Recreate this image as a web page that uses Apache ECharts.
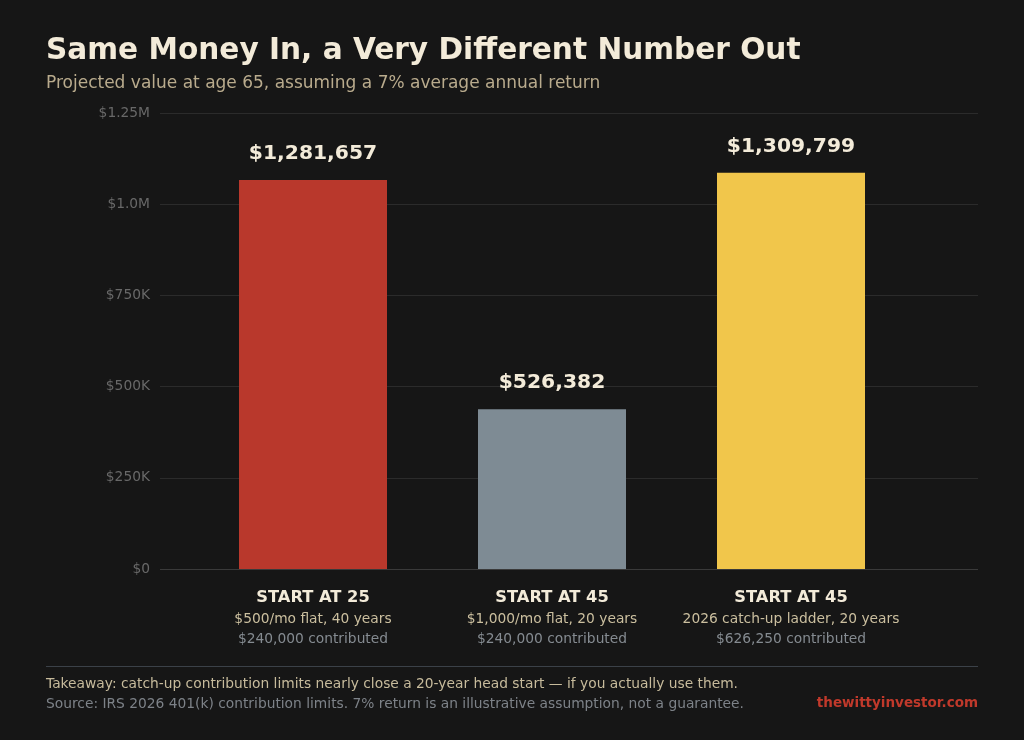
<!DOCTYPE html>
<html>
<head>
<meta charset="utf-8">
<script src="https://cdn.jsdelivr.net/npm/echarts@6/dist/echarts.min.js"></script>
<style>
html,body{margin:0;padding:0;background:#161616;}
#c{width:1024px;height:740px;}
</style>
</head>
<body>
<div id="c"></div>
<script>
// ---- data ----
const categories = ['START AT 25', 'START AT 45', 'START AT 45'];
const planLines = ['$500/mo flat, 40 years', '$1,000/mo flat, 20 years', '2026 catch-up ladder, 20 years'];
const contributedLines = ['$240,000 contributed', '$240,000 contributed', '$626,250 contributed'];
const barHeights = [1066000, 438000, 1086000];           // bar heights as drawn
const valueLabels = ['$1,281,657', '$526,382', '$1,309,799']; // printed labels
const barColors = ['#b9382c', '#7e8b94', '#f1c64b'];
const yTickValues = [0, 250000, 500000, 750000, 1000000, 1250000];
const yTickLabels = ['$0', '$250K', '$500K', '$750K', '$1.0M', '$1.25M'];

const FONT = 'DejaVu Sans';
const chart = echarts.init(document.getElementById('c'), null, {renderer: 'canvas'});

const option = {
  backgroundColor: '#161616',
  animation: false,
  textStyle: {fontFamily: FONT},
  title: [
    {text: 'Same Money In, a Very Different Number Out', left: 41, top: 31,
     textStyle: {fontFamily: FONT, fontSize: 29.6, fontWeight: 'bold', color: '#f3ebd9'}},
    {text: 'Projected value at age 65, assuming a 7% average annual return', left: 41, top: 70,
     textStyle: {fontFamily: FONT, fontSize: 17, fontWeight: 'normal', color: '#b9ab8d'}}
  ],
  grid: [
    {left: 160, right: 46, top: 113, bottom: 171, containLabel: false},
    {left: 193.5, right: 113.5, top: 113, bottom: 171, containLabel: false}
  ],
  xAxis: [
    {type: 'category', gridIndex: 0, data: ['a'], show: false},
    {type: 'category', gridIndex: 1, data: categories,
     axisLine: {show: false}, axisTick: {show: false},
     axisLabel: {
       margin: 18, interval: 0,
       formatter: function (v, i) {
         return '{a|' + v + '}\n{b|' + planLines[i] + '}\n{c|' + contributedLines[i] + '}';
       },
       rich: {
         a: {fontFamily: FONT, fontSize: 16.3, fontWeight: 'bold', color: '#f3ebd9', lineHeight: 22},
         b: {fontFamily: FONT, fontSize: 13.8, color: '#cbbf9f', lineHeight: 20},
         c: {fontFamily: FONT, fontSize: 13.8, color: '#858b91', lineHeight: 20}
       }
     }}
  ],
  yAxis: [
    {type: 'value', gridIndex: 0, min: 0, max: 1250000, interval: 250000,
     axisLine: {show: false}, axisTick: {show: false},
     axisLabel: {margin: 10, fontFamily: FONT, fontSize: 13.8, color: '#686868',
       formatter: function (v) { const k = yTickValues.indexOf(v); return k >= 0 ? yTickLabels[k] : ''; }},
     splitLine: {lineStyle: {color: '#2b2b2b', width: 1}}},
    {type: 'value', gridIndex: 1, min: 0, max: 1250000, interval: 250000, show: false,
     splitLine: {show: false}}
  ],
  series: [
    {type: 'bar', xAxisIndex: 1, yAxisIndex: 1, barWidth: 148,
     data: barHeights.map((v, i) => ({value: v, itemStyle: {color: barColors[i]}})),
     label: {show: true, position: 'top', distance: 16,
       formatter: p => valueLabels[p.dataIndex],
       fontFamily: FONT, fontSize: 20.3, fontWeight: 'bold', color: '#f3ebd9'}},
    {type: 'line', xAxisIndex: 0, yAxisIndex: 0, data: [], silent: true,
     markLine: {symbol: 'none', silent: true, label: {show: false},
       lineStyle: {color: '#3a3a3a', width: 1, type: 'solid'},
       data: [{yAxis: 0}]}}
  ],
  graphic: [
    {type: 'line', shape: {x1: 46, y1: 666.5, x2: 978, y2: 666.5}, style: {stroke: '#3b4148', lineWidth: 1}},
    {type: 'text', left: 46, top: 677, style: {text: 'Takeaway: catch-up contribution limits nearly close a 20-year head start \u2014 if you actually use them.',
      font: '13.8px "DejaVu Sans"', fill: '#c7bb9c'}},
    {type: 'text', left: 46, top: 697, style: {text: 'Source: IRS 2026 401(k) contribution limits. 7% return is an illustrative assumption, not a guarantee.',
      font: '13.8px "DejaVu Sans"', fill: '#7d8288'}},
    {type: 'text', right: 46, top: 696, style: {text: 'thewittyinvestor.com',
      font: 'bold 13.5px "DejaVu Sans"', fill: '#c0392b'}}
  ]
};
chart.setOption(option);
</script>
</body>
</html>
